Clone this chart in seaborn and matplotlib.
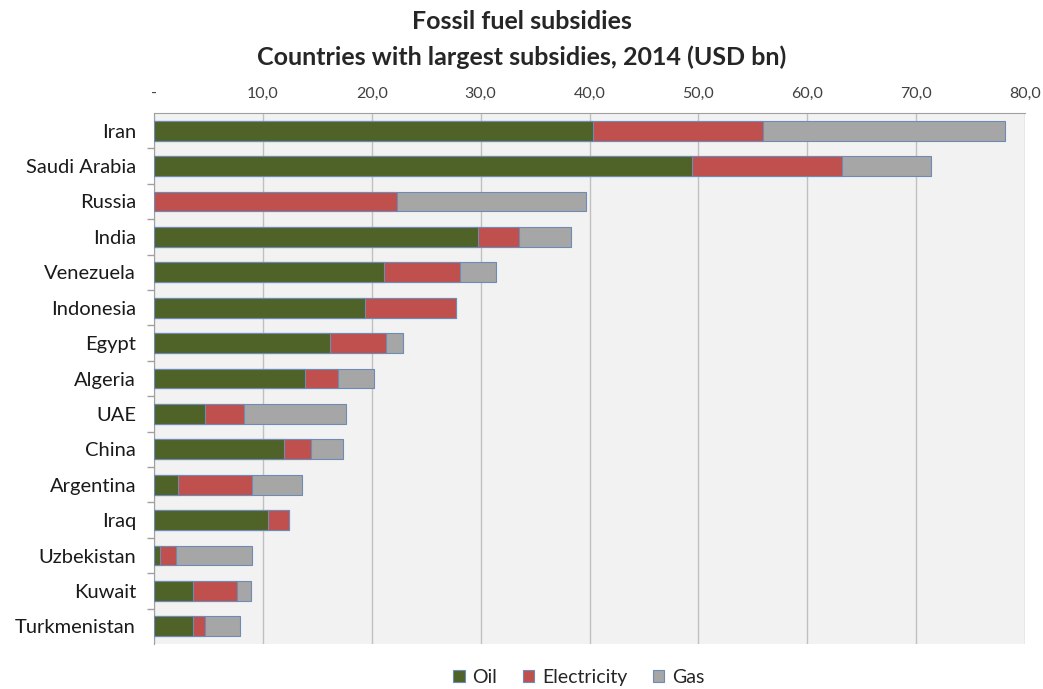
import numpy as np
import pandas as pd
import matplotlib
matplotlib.use("Agg")
import matplotlib.pyplot as plt
import seaborn as sns
from matplotlib.ticker import FuncFormatter, MultipleLocator, FixedLocator
from matplotlib.patches import Patch

# --- data (USD bn) ---
countries = ["Iran", "Saudi Arabia", "Russia", "India", "Venezuela", "Indonesia",
             "Egypt", "Algeria", "UAE", "China", "Argentina", "Iraq",
             "Uzbekistan", "Kuwait", "Turkmenistan"]
oil = [40.3, 49.4, 0.0, 29.8, 21.1, 19.4, 16.2, 13.9, 4.7, 11.9, 2.2, 10.5, 0.55, 3.6, 3.6]
electricity = [15.6, 13.8, 22.3, 3.7, 7.0, 8.3, 5.1, 3.0, 3.6, 2.5, 6.8, 1.9, 1.45, 4.0, 1.1]
gas = [22.3, 8.2, 17.4, 4.8, 3.3, 0.0, 1.6, 3.3, 9.3, 3.0, 4.6, 0.0, 7.0, 1.3, 3.2]

series = ["Oil", "Electricity", "Gas"]
colors = {"Oil": "#4f6228", "Electricity": "#c0504d", "Gas": "#a6a6a6"}

df = pd.DataFrame({"Country": countries, "Oil": oil,
                   "Electricity": electricity, "Gas": gas})
df["cum_oil"] = df["Oil"]
df["cum_elec"] = df["Oil"] + df["Electricity"]
df["cum_gas"] = df["cum_elec"] + df["Gas"]

sns.set_style("white")
plt.rcParams["font.family"] = ["Lato", "DejaVu Sans"]

fig = plt.figure(figsize=(10.43, 6.89), dpi=100)
ax = fig.add_axes([0.1477, 0.0653, 0.835, 0.7707])
ax.set_facecolor("#f2f2f2")

# stacked bars: draw cumulative totals from the back
for col, name in [("cum_gas", "Gas"), ("cum_elec", "Electricity"), ("cum_oil", "Oil")]:
    sns.barplot(data=df, x=col, y="Country", orient="h", color=colors[name],
                width=0.56, edgecolor="#6d8bb5", linewidth=0.8, saturation=1,
                ax=ax, zorder=3)

ax.set_xlim(0, 80)
ax.set_ylim(len(countries) - 0.5, -0.5)
ax.xaxis.set_major_locator(MultipleLocator(10))
ax.xaxis.set_major_formatter(FuncFormatter(
    lambda v, p: "-" if v == 0 else f"{v:.1f}".replace(".", ",")))
ax.xaxis.tick_top()
ax.grid(axis="x", color="#c0c0c0", linewidth=1.0, zorder=0)
ax.set_axisbelow(True)
ax.tick_params(axis="x", length=0, labelsize=11.5, colors="#404040", pad=9)
ax.tick_params(axis="y", which="major", length=0, labelsize=14.5,
               colors="#1a1a1a", pad=13)
ax.yaxis.set_minor_locator(FixedLocator(np.arange(0.5, len(countries) - 1, 1.0)))
ax.tick_params(axis="y", which="minor", left=True, length=5, width=1,
               color="#a0a0a0")
ax.set_xlabel("")
ax.set_ylabel("")
for side in ["right", "bottom"]:
    ax.spines[side].set_visible(False)
ax.spines["top"].set_color("#a0a0a0")
ax.spines["left"].set_color("#a0a0a0")

fig.text(0.5, 0.969, "Fossil fuel subsidies", ha="center", va="center",
         fontsize=18, fontweight="bold")
fig.text(0.5, 0.917, "Countries with largest subsidies, 2014 (USD bn)",
         ha="center", va="center", fontsize=18, fontweight="bold")

handles = [Patch(facecolor=colors[s], edgecolor="#6d8bb5", linewidth=0.8, label=s)
           for s in series]
fig.legend(handles=handles, loc="center", bbox_to_anchor=(0.555, 0.017), ncol=3,
           frameon=False, fontsize=14, handlelength=0.6, handleheight=0.6,
           handletextpad=0.4, columnspacing=1.3)

fig.savefig("out.png", dpi=100, facecolor="white")
